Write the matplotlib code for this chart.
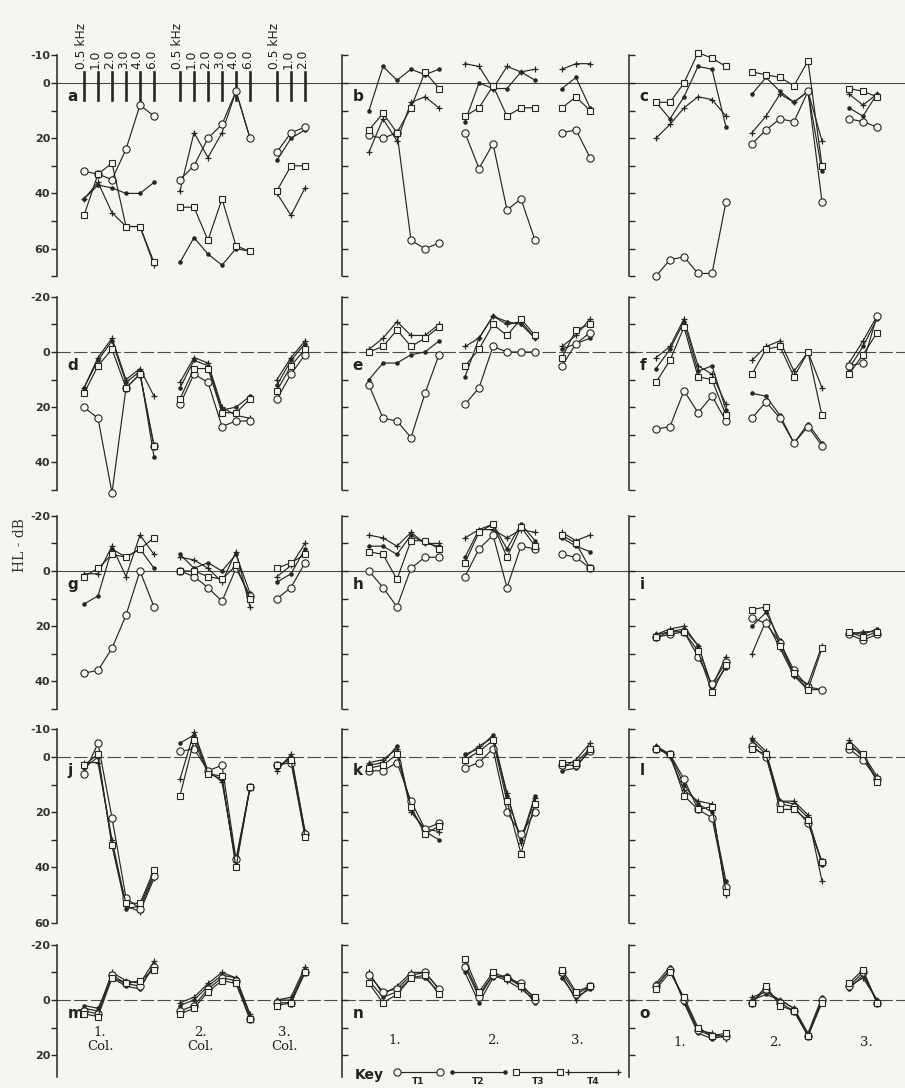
import matplotlib.pyplot as plt

freq_6 = ["0.5 kHz", "1.0", "2.0", "3.0", "4.0", "6.0"]
freq_3 = ["0.5 kHz", "1.0", "2.0"]
tests = ["T1", "T2", "T3", "T4"]
letters = "abcdefghijklmno"

# HL in dB per panel; one row per test T1..T4,
# each row = 6 values (Col. 1) + 6 values (Col. 2) + 3 values (Col. 3)
a = [[32, 33, 35, 24, 8, 12, 35, 30, 20, 15, 3, 20, 25, 18, 16],
     [42, 37, 38, 40, 40, 36, 65, 56, 62, 66, 60, 61, 28, 20, 17],
     [48, 33, 29, 52, 52, 65, 45, 45, 57, 42, 59, 61, 39, 30, 30],
     [42, 36, 47, 52, 52, 66, 39, 18, 27, 18, 3, 20, 40, 48, 38]]
b = [[19, 20, 18, 57, 60, 58, 18, 31, 22, 46, 42, 57, 18, 17, 27],
     [10, -6, -1, -5, -3, -5, 14, 0, 2, 2, -4, -1, 2, -2, 9],
     [17, 11, 18, 9, -4, 2, 12, 9, 1, 12, 9, 9, 9, 5, 10],
     [25, 13, 21, 7, 5, 9, -7, -6, 2, -6, -4, -5, -5, -7, -7]]
c = [[70, 64, 63, 69, 69, 43, 22, 17, 13, 14, 3, 43, 13, 14, 16],
     [7, 13, 5, -6, -5, 16, 4, -2, 3, 7, 3, 32, 9, 12, 4],
     [7, 7, 0, -11, -9, -6, -4, -3, -2, 1, -8, 30, 2, 3, 5],
     [20, 15, 9, 5, 6, 12, 18, 12, 4, 7, 3, 21, 4, 8, 4]]
d = [[20, 24, 51, 13, 8, 34, 19, 8, 11, 27, 25, 25, 17, 8, 1],
     [13, 3, -4, 11, 7, 38, 13, 3, 5, 21, 20, 16, 12, 3, -3],
     [15, 5, -1, 13, 8, 34, 17, 6, 6, 22, 22, 17, 14, 5, -1],
     [13, 2, -5, 10, 6, 16, 11, 2, 4, 20, 23, 24, 10, 2, -4]]
e = [[12, 24, 25, 31, 15, 1, 19, 13, -2, 0, 0, 0, 5, -3, -7],
     [10, 4, 4, 1, 0, -4, 9, -5, -13, -11, -10, -5, -1, -3, -5],
     [0, -2, -8, -2, -5, -9, 5, -1, -10, -6, -12, -6, 2, -8, -10],
     [-1, -5, -11, -6, -6, -10, -2, -5, -13, -10, -11, -5, -2, -6, -12]]
f = [[28, 27, 14, 22, 16, 25, 24, 18, 24, 33, 27, 34, 5, 4, -13],
     [6, -1, -11, 7, 5, 21, 15, 16, 23, 33, 26, 33, 6, -2, -12],
     [11, 3, -9, 9, 10, 23, 8, -1, -2, 9, 0, 23, 8, 1, -7],
     [2, -2, -12, 5, 8, 19, 3, -2, -4, 7, 0, 13, 4, -4, -13]]
g = [[37, 36, 28, 16, 0, 13, 0, 2, 6, 11, -1, 9, 10, 6, -3],
     [12, 9, -8, -5, -8, -1, -6, -1, -3, 0, -6, 8, 4, 1, -8],
     [2, -1, -6, -5, -8, -12, 0, 0, 2, 3, -2, 10, -1, -3, -6],
     [1, 1, -9, 2, -13, -6, -5, -4, -1, 4, -7, 13, 2, -2, -10]]
h = [[0, 6, 13, -1, -5, -5, 2, -8, -13, 6, -9, -8, -6, -5, -1],
     [-9, -9, -6, -13, -10, -9, -5, -15, -17, -8, -17, -11, -12, -9, -7],
     [-7, -6, 3, -11, -11, -8, -3, -14, -17, -5, -16, -9, -13, -10, -1],
     [-13, -12, -9, -14, -10, -10, -12, -15, -15, -12, -15, -14, -14, -11, -13]]
i_ = [[24, 23, 22, 31, 41, 33, 17, 19, 26, 36, 42, 43, 23, 25, 23],
      [23, 22, 21, 27, 42, 35, 20, 15, 25, 38, 43, 43, 22, 23, 21],
      [24, 22, 22, 29, 44, 34, 14, 13, 27, 37, 43, 28, 22, 24, 22],
      [23, 21, 20, 27, 42, 31, 30, 18, 28, 38, 41, 27, 23, 22, 22]]
j = [[6, -5, 22, 51, 55, 43, -2, -3, 5, 3, 37, 11, 3, 2, 28],
     [4, 0, 32, 55, 54, 42, -5, -8, 6, 8, 39, 11, 4, 0, 27],
     [3, -1, 32, 53, 53, 41, 14, -6, 6, 7, 40, 11, 3, 1, 29],
     [2, 2, 30, 54, 56, 44, 8, -9, 5, 9, 38, 11, 5, -1, 27]]
k = [[5, 5, 2, 16, 26, 24, 4, 2, -3, 20, 28, 20, 3, 3, -2],
     [3, 2, -4, 19, 27, 30, -1, -3, -8, 14, 30, 14, 5, 4, -3],
     [4, 3, -1, 18, 28, 25, 1, -2, -6, 16, 35, 17, 2, 2, -3],
     [2, 1, -3, 20, 26, 27, 0, -4, -7, 13, 31, 15, 4, 1, -5]]
l = [[-3, -1, 8, 19, 22, 47, -4, 0, 17, 18, 24, 38, -3, 1, 8],
     [-4, -1, 10, 17, 20, 45, -6, -1, 16, 17, 22, 39, -5, 0, 8],
     [-3, -1, 14, 19, 18, 49, -3, -1, 19, 19, 23, 38, -4, -1, 9],
     [-4, 0, 12, 16, 17, 50, -7, -2, 16, 16, 21, 45, -6, -1, 7]]
m = [[4, 5, -9, -6, -5, -12, 4, 2, -4, -8, -7, 7, 1, 1, -10],
     [2, 3, -8, -5, -4, -13, 2, 0, -5, -9, -8, 6, 0, 0, -11],
     [5, 6, -8, -6, -7, -11, 5, 3, -3, -7, -6, 7, 2, 1, -10],
     [3, 4, -10, -7, -6, -14, 1, -1, -6, -10, -8, 5, 0, -1, -12]]
n = [[-9, -3, -4, -9, -10, -4, -12, -1, -9, -8, -6, 0, -10, -2, -5],
     [-7, -1, -3, -8, -8, -3, -10, 1, -8, -9, -5, 1, -8, -1, -4],
     [-6, 1, -2, -8, -9, -2, -15, -3, -10, -8, -5, -1, -11, -3, -5],
     [-10, -2, -5, -10, -10, -4, -13, -2, -9, -7, -4, 0, -9, 0, -5]]
o = [[-5, -11, 0, 11, 13, 13, 1, -4, 1, 4, 13, 0, -5, -10, 1],
     [-6, -12, 1, 12, 14, 13, 0, -2, 0, 3, 12, -1, -4, -9, 0],
     [-4, -10, -1, 10, 13, 12, 1, -5, 2, 4, 13, 1, -6, -11, 1],
     [-5, -11, 0, 11, 12, 14, -1, -3, 0, 3, 13, 0, -5, -8, 0]]

panels = [[a, b, c], [d, e, f], [g, h, i_], [j, k, l], [m, n, o]]

# layout (pixels)
W, H = 905, 1088
row_axis = [(-10, 70), (-20, 50), (-20, 50), (-10, 60), (-20, 28)]
row_zero = [83, 352, 571, 757, 1000]
row_labels = [[-10, 0, 20, 40, 60], [-20, 0, 20, 40], [-20, 0, 20, 40],
              [-10, 0, 20, 40, 60], [-20, 0, 20]]
row_dashed = [False, True, False, True, True]
col_left = [57, 342, 629]
col_width = [285, 287, 276]
group_start = [27, 123, 220]
px_db = 2.76
px_step = 14

bg = '#f5f5f2'
ink = '#262626'

styles = {
    'T1': dict(marker='o', ms=5.2, mfc=bg, mec=ink, mew=0.8),
    'T2': dict(marker='.', ms=4.5, mfc=ink, mec=ink),
    'T3': dict(marker='s', ms=5.0, mfc=bg, mec=ink, mew=0.8),
    'T4': dict(marker='+', ms=5, mec=ink, mew=0.9),
}
draw_order = [1, 3, 0, 2]

fig = plt.figure(figsize=(9.05, 10.88), dpi=100, facecolor=bg)

def group_x(gi, count):
    return [group_start[gi] / px_step + q for q in range(count)]

for r in range(5):
    top, bot = row_axis[r]
    y0 = row_zero[r] + top * px_db
    hpx = (bot - top) * px_db
    for ci in range(3):
        ax = fig.add_axes([col_left[ci] / W, 1 - (y0 + hpx) / H,
                           col_width[ci] / W, hpx / H])
        ax.set_facecolor('none')
        ax.set_xlim(0, col_width[ci] / px_step)
        ax.set_ylim(bot, top)
        for s in ['top', 'right', 'bottom']:
            ax.spines[s].set_visible(False)
        ax.spines['left'].set_color(ink)
        ax.spines['left'].set_linewidth(1.1)
        ax.set_xticks([])
        ticks = list(range(top, bot + 1, 10))
        ax.set_yticks(ticks)
        if ci == 0:
            ax.set_yticklabels([str(t) if t in row_labels[r] else '' for t in ticks],
                               fontsize=8, fontweight='bold', color='#333333')
            ax.tick_params(axis='y', direction='out', length=4, width=1, color=ink, pad=1)
        else:
            ax.set_yticklabels([])
            ax.tick_params(axis='y', direction='in', length=4, width=1, color=ink)
        ls = (0, (12, 3)) if row_dashed[r] else '-'
        ax.axhline(0, color='#4a4a4a', lw=0.8, ls=ls, zorder=0)

        data = panels[r][ci]
        for si in draw_order:
            vals = data[si]
            chunks = [vals[0:6], vals[6:12], vals[12:15]]
            for gi, ch in enumerate(chunks):
                ax.plot(group_x(gi, len(ch)), ch, color=ink, lw=0.85,
                        clip_on=False, zorder=3 + (si % 2 == 0),
                        **styles[tests[si]])

        ax.text(0.75, 5, letters[r * 3 + ci], fontsize=11, fontweight='bold',
                color='#222222', va='center', ha='left')

        # frequency marks on the first panel
        if r == 0 and ci == 0:
            for gi, labs in enumerate([freq_6, freq_6, freq_3]):
                xs = group_x(gi, len(labs))
                for x, lab in zip(xs, labs):
                    ax.plot([x, x], [-4, 6], color=ink, lw=1.9, clip_on=False)
                    ax.text(x - 0.2, -5.0, lab, rotation=90, ha='center', va='bottom',
                            fontsize=8.8, color='#222222')

# overlay for figure texts and key
ov = fig.add_axes([0, 0, 1, 1])
ov.set_xlim(0, W)
ov.set_ylim(H, 0)
ov.axis('off')

serif = 'DejaVu Serif'
ov.text(20, 545, 'HL - dB', rotation=90, ha='center', va='center',
        fontsize=10, family=serif, color='#333333')

for x, t in [(100, '1.\nCol.'), (200, '2.\nCol.'), (284, '3.\nCol.')]:
    ov.text(x, 1040, t, ha='center', va='center', fontsize=9.5, family=serif,
            color='#222222', linespacing=1.1)
for x, t in zip([395, 493, 577], ['1.', '2.', '3.']):
    ov.text(x, 1040, t, ha='center', va='center', fontsize=9.5, family=serif, color='#222222')
for x, t in zip([680, 775, 866], ['1.', '2.', '3.']):
    ov.text(x, 1042, t, ha='center', va='center', fontsize=9.5, family=serif, color='#222222')

# key
ov.text(355, 1075, 'Key', ha='left', va='center', fontsize=10, fontweight='bold', color='#222222')
key_seg = [(397, 440), (452, 505), (516, 560), (568, 618)]
for (x1, x2), t in zip(key_seg, tests):
    ov.plot([x1, x2], [1072, 1072], color=ink, lw=0.85, **styles[t])
    ov.text((x1 + x2) / 2, 1082, t, ha='center', va='center', fontsize=6.5,
            fontweight='bold', color='#222222')

fig.savefig('out.png', dpi=100, facecolor=bg)
